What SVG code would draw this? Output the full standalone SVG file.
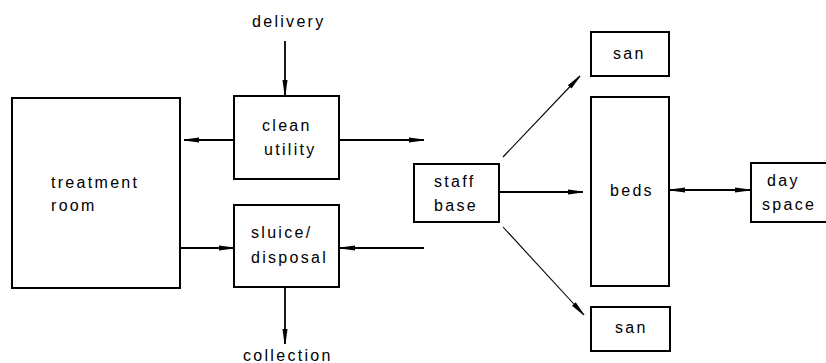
<svg xmlns="http://www.w3.org/2000/svg" width="826" height="363" viewBox="0 0 826 363">
<style>
.box{fill:none;stroke:#000;stroke-width:2}
.lbl{font-family:"Liberation Sans",Arial,sans-serif;font-size:16px;letter-spacing:2.3px;fill:#000}
.c{stroke:#000;stroke-width:1.8;fill:none}
.d{stroke:#000;stroke-width:1.1;fill:none}
</style>
<defs>
<marker id="ah" markerUnits="userSpaceOnUse" markerWidth="16" markerHeight="8" refX="15" refY="3.5" orient="auto">
<path d="M0,1 L15,3 L15,4 L0,6 z" fill="#000"/>
</marker>
<marker id="as" markerUnits="userSpaceOnUse" markerWidth="16" markerHeight="8" refX="0" refY="3.5" orient="auto">
<path d="M15,1 L0,3 L0,4 L15,6 z" fill="#000"/>
</marker>
</defs>
<g id="delivery"><text class="lbl" x="252" y="27">delivery</text></g>
<g id="collection"><text class="lbl" x="243" y="361">collection</text></g>
<g id="treatment-room"><rect class="box" x="12" y="98" width="168" height="190"/><text class="lbl" x="51" y="188">treatment</text><text class="lbl" x="51" y="211">room</text></g>
<g id="clean-utility"><rect class="box" x="234" y="96" width="105" height="83"/><text class="lbl" x="262" y="131">clean</text><text class="lbl" x="264" y="155">utility</text></g>
<g id="sluice-disposal"><rect class="box" x="234" y="205" width="105" height="82"/><text class="lbl" x="251" y="238">sluice/</text><text class="lbl" x="251" y="263">disposal</text></g>
<g id="staff-base"><rect class="box" x="414" y="164" width="85" height="58"/><text class="lbl" x="434" y="187">staff</text><text class="lbl" x="434" y="211">base</text></g>
<g id="san-top"><rect class="box" x="591" y="32" width="78" height="44"/><text class="lbl" x="613" y="59">san</text></g>
<g id="beds"><rect class="box" x="591" y="97" width="78" height="189"/><text class="lbl" x="610" y="196">beds</text></g>
<g id="san-bottom"><rect class="box" x="591" y="307" width="79" height="44"/><text class="lbl" x="615" y="333">san</text></g>
<g id="day-space"><rect class="box" x="751" y="163" width="80" height="59"/><text class="lbl" x="767" y="186">day</text><text class="lbl" x="762" y="210">space</text></g>
<g id="connectors">
<line class="c" x1="285" y1="41" x2="285" y2="95" marker-end="url(#ah)"/>
<line class="c" x1="285" y1="288" x2="285" y2="344" marker-end="url(#ah)"/>
<line class="c" x1="234" y1="140" x2="184" y2="140" marker-end="url(#ah)"/>
<line class="c" x1="339" y1="140" x2="424" y2="140" marker-end="url(#ah)"/>
<line class="c" x1="180" y1="248" x2="234" y2="248" marker-end="url(#ah)"/>
<line class="c" x1="424" y1="248" x2="340" y2="248" marker-end="url(#ah)"/>
<line class="c" x1="499" y1="192" x2="583" y2="192" marker-end="url(#ah)"/>
<line class="c" x1="670" y1="190" x2="750" y2="190" marker-start="url(#as)" marker-end="url(#ah)"/>
<line class="d" x1="503" y1="157" x2="580" y2="76" marker-end="url(#ah)"/>
<line class="d" x1="503" y1="227" x2="584" y2="315" marker-end="url(#ah)"/>
</g>
</svg>
